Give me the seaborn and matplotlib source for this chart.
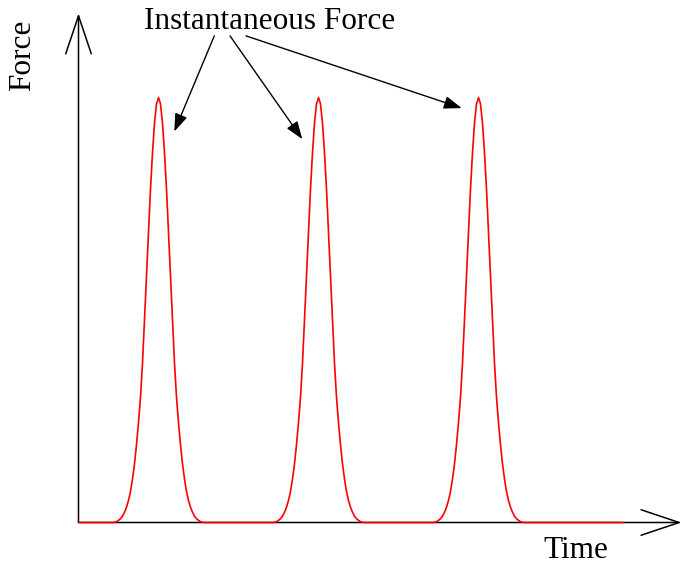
import numpy as np
import pandas as pd
import matplotlib
matplotlib.use("Agg")
import matplotlib.pyplot as plt
import seaborn as sns

# one pulse: offset from peak time and relative force
pulse_offsets = [-45, -42, -40, -38, -36, -34, -32, -30, -28, -26, -24, -22, -20,
                 -18, -16, -14, -12, -10, -8, -6, -4, -2, 0, 2, 4, 6, 8, 10, 12,
                 14, 16, 18, 20, 22, 24, 26, 28, 30, 32, 34, 36, 38, 40, 42, 45]
pulse_half = [0.0, 0.002, 0.005, 0.009, 0.015, 0.024, 0.036, 0.052, 0.073, 0.102,
              0.138, 0.183, 0.235, 0.295, 0.375, 0.475, 0.580, 0.685, 0.785,
              0.870, 0.940, 0.985]
pulse_heights = pulse_half + [1.0] + pulse_half[::-1]

peak_times = [80, 240, 400]
start_time = 0
end_time = 544

# axis arrow tips
x_axis_tip = 603
y_axis_tip = 1.198

label_text = "Instantaneous Force"
label_pos = (191, 1.161)
arrow_starts = [(135.8, 1.145), (151.5, 1.145), (167.5, 1.145)]
arrow_tips = [(95.8, 0.920), (223.8, 0.902), (383.2, 0.975)]

# build the curve
times = [start_time]
forces = [0.0]
for p in peak_times:
    times += [p + o for o in pulse_offsets]
    forces += pulse_heights
times.append(end_time)
forces.append(0.0)
df = pd.DataFrame({"Time": times, "Force": forces})

sns.set_style("white")
plt.rcParams["font.family"] = ["Liberation Serif", "DejaVu Serif"]
plt.rcParams["text.color"] = "black"

fig = plt.figure(figsize=(6.82, 5.65), dpi=100)
ax = fig.add_axes([0, 0, 1, 1])
ax.set_xlim(-78.5, 603.5)
ax.set_ylim(-42.5 / 425, 522.5 / 425)
ax.set_axis_off()

# axes with open arrow heads
axis_arrow = dict(arrowstyle="->,head_length=2.74,head_width=0.92",
                  color="black", lw=1.1, shrinkA=0, shrinkB=0)
ax.annotate("", xy=(0, y_axis_tip), xytext=(0, 0), arrowprops=axis_arrow, zorder=1)
ax.annotate("", xy=(x_axis_tip, 0), xytext=(0, 0), arrowprops=axis_arrow, zorder=1)

sns.lineplot(data=df, x="Time", y="Force", color="red", lw=1.2, ax=ax,
             sort=False, estimator=None, zorder=3)

ax.text(-56.3, 1.1, "Force", rotation=90, ha="center", va="center",
        fontsize=22.5, color="black")
ax.text(497, -0.099, "Time", ha="center", va="bottom", fontsize=22.5, color="black")
ax.text(label_pos[0], label_pos[1], label_text, ha="center", va="baseline",
        fontsize=22.5, color="black")

for s, t in zip(arrow_starts, arrow_tips):
    ax.annotate("", xy=t, xytext=s,
                arrowprops=dict(arrowstyle="-|>,head_length=0.54,head_width=0.195",
                                color="black", lw=1.0, shrinkA=0, shrinkB=0,
                                mutation_scale=20))

fig.savefig("out.png", dpi=100)
